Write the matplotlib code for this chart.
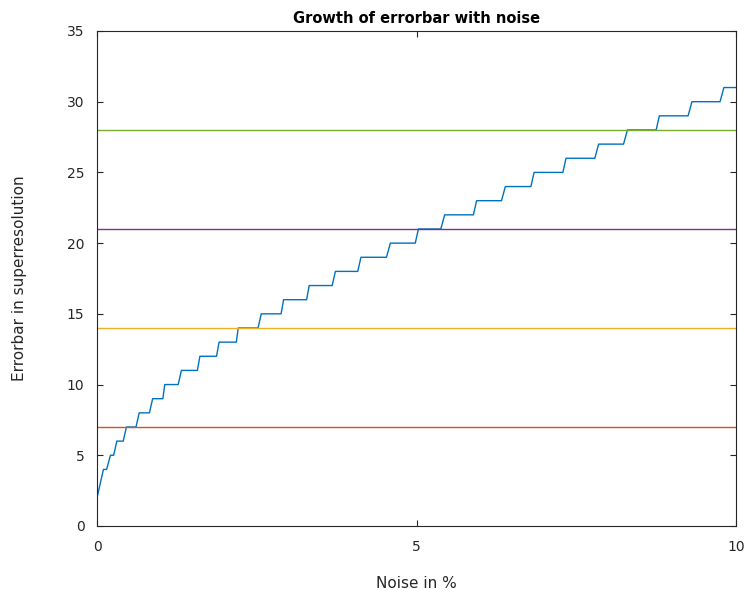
import matplotlib
matplotlib.use("Agg")
import matplotlib.pyplot as plt

# step levels of the errorbar and the noise range (start, end) each level holds
levels = [2, 4, 5, 6, 7, 8, 9, 10, 11, 12, 13, 14, 15, 16, 17, 18, 19, 20,
          21, 22, 23, 24, 25, 26, 27, 28, 29, 30, 31]
level_start = [0.00, 0.10, 0.21, 0.31, 0.46, 0.66, 0.87, 1.06, 1.32, 1.61,
               1.91, 2.21, 2.57, 2.92, 3.32, 3.73, 4.13, 4.59, 5.03, 5.44,
               5.94, 6.39, 6.84, 7.34, 7.85, 8.30, 8.80, 9.31, 9.81]
level_end = [0.00, 0.15, 0.26, 0.41, 0.61, 0.82, 1.03, 1.27, 1.57, 1.87,
             2.18, 2.52, 2.88, 3.28, 3.68, 4.08, 4.53, 4.98, 5.38, 5.89,
             6.33, 6.79, 7.29, 7.79, 8.24, 8.75, 9.25, 9.75, 10.00]

thresholds = [7, 14, 21, 28]
threshold_colors = ["#D95319", "#EDB120", "#7E2F8E", "#77AC30"]

noise = []
errorbar = []
for v, a, b in zip(levels, level_start, level_end):
    noise += [a, b]
    errorbar += [v, v]

fig = plt.figure(figsize=(7.47, 5.9), dpi=100)
ax = fig.add_axes([0.1299, 0.1085, 0.8554, 0.839])

ax.plot(noise, errorbar, color="#0072BD", lw=1.0)
for t, c in zip(thresholds, threshold_colors):
    ax.plot([0, 10], [t, t], color=c, lw=1.0)

ax.set_xlim(0, 10)
ax.set_ylim(0, 35)
ax.set_xticks([0, 5, 10])
ax.set_yticks(range(0, 36, 5))
ax.tick_params(direction="in", top=True, right=True, labelsize=10,
               colors="#262626", length=4)
ax.tick_params(axis="x", pad=10)
ax.tick_params(axis="y", pad=9)
for s in ax.spines.values():
    s.set_color("#262626")
    s.set_linewidth(0.8)

ax.set_title("Growth of errorbar with noise", fontsize=10.5,
             fontweight="bold", pad=6)
ax.set_xlabel("Noise in %", fontsize=11, color="#262626", labelpad=16)
ax.set_ylabel("Errorbar in superresolution", fontsize=11, color="#262626",
              labelpad=29)

fig.savefig("out.png", dpi=100)
